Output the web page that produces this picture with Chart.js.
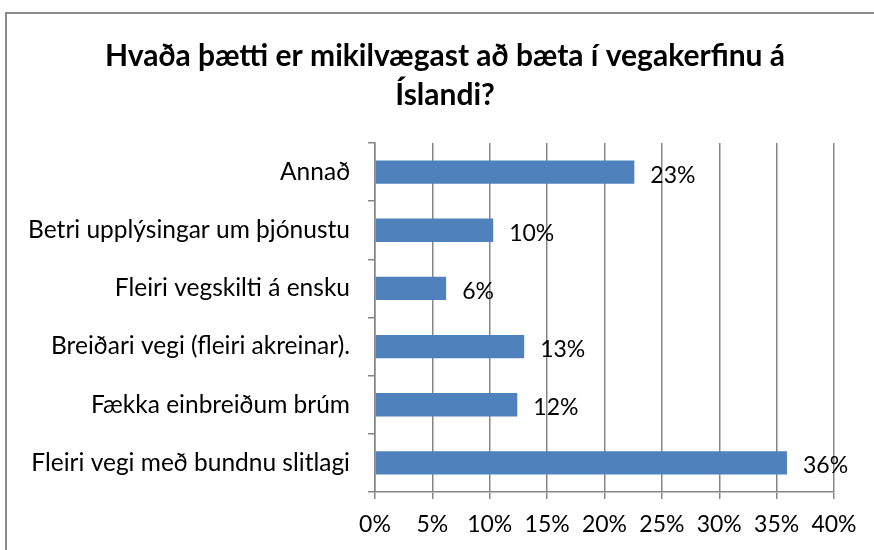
<!DOCTYPE html>
<html>
<head>
<meta charset="utf-8">
<script src="https://cdn.jsdelivr.net/npm/chart.js@4/dist/chart.umd.min.js"></script>
<style>
  html, body { margin: 0; padding: 0; background: #fff; overflow: hidden; }
  #wrap { position: relative; width: 874px; height: 550px; }
  #frame { position: absolute; left: 5px; top: 12px; width: 900px; height: 600px;
           border: 2px solid #8c8c8c; box-sizing: border-box; pointer-events: none; }
</style>
</head>
<body>
<div id="wrap">
  <canvas id="chart" width="874" height="550"></canvas>
  <div id="frame"></div>
</div>
<script>
// chart data
const categories = [
    'Annað',
    'Betri upplýsingar um þjónustu',
    'Fleiri vegskilti á ensku',
    'Breiðari vegi (fleiri akreinar).',
    'Fækka einbreiðum brúm',
    'Fleiri vegi með bundnu slitlagi'
];
const shares = [22.6, 10.3, 6.2, 13.0, 12.4, 35.9];
const shareLabels = ['23%', '10%', '6%', '13%', '12%', '36%'];
const tickValues = [0, 5, 10, 15, 20, 25, 30, 35, 40];

const titleLines = ['Hvaða þætti er mikilvægast að bæta í vegakerfinu á', 'Íslandi?'];

const FONT = 'Lato, Carlito, Calibri, sans-serif';
const axisGrey = '#868686';

// layout numbers (plot area runs from x 375 to 834, y 143 to 492)
const PAD_LEFT = 16;
const PAD_BOTTOM = 4;
const TITLE_SHIFT = 20;   // title sits a bit right of the canvas centre

// draws the percentage next to each bar
const barLabels = {
    id: 'barLabels',
    afterLayout: function(chart) {
        if (chart.titleBlock) {
            chart.titleBlock.left += TITLE_SHIFT;
            chart.titleBlock.right += TITLE_SHIFT;
        }
    },
    afterDatasetsDraw: function(chart) {
        const ctx = chart.ctx;
        const meta = chart.getDatasetMeta(0);
        ctx.save();
        ctx.font = '23px ' + FONT;
        ctx.fillStyle = '#000';
        ctx.textBaseline = 'middle';
        ctx.textAlign = 'left';
        meta.data.forEach(function(bar, i) {
            ctx.fillText(shareLabels[i], bar.x + 16, bar.y + 3);
        });
        ctx.restore();
    }
};

const ctx = document.getElementById('chart').getContext('2d');

new Chart(ctx, {
    type: 'bar',
    data: {
        labels: categories,
        datasets: [{
            data: shares,
            backgroundColor: '#4f81bd',
            borderColor: '#4f81bd',
            borderWidth: 0,
            barPercentage: 0.4,
            categoryPercentage: 1.0
        }]
    },
    options: {
        indexAxis: 'y',
        responsive: false,
        animation: false,
        layout: { padding: { top: 0, right: 40, bottom: PAD_BOTTOM, left: PAD_LEFT } },
        plugins: {
            legend: { display: false },
            tooltip: { enabled: false },
            title: {
                display: true,
                text: titleLines,
                color: '#000',
                font: { family: FONT, size: 30, weight: 'bold', lineHeight: 1.3 },
                padding: { top: 37, bottom: 28 }
            }
        },
        scales: {
            x: {
                min: 0,
                max: 40,
                afterBuildTicks: function(scale) {
                    scale.ticks = tickValues.map(function(v) { return { value: v }; });
                },
                afterFit: function(scale) {
                    scale.height = 550 - 492 - PAD_BOTTOM;
                },
                ticks: {
                    color: '#000',
                    font: { family: FONT, size: 23 },
                    padding: 12,
                    maxRotation: 0,
                    callback: function(v) { return v + '%'; }
                },
                grid: { color: axisGrey, lineWidth: 1.5, tickLength: 7 },
                border: { color: axisGrey, width: 1.5 }
            },
            y: {
                afterFit: function(scale) {
                    scale.width = 375 - PAD_LEFT;
                },
                ticks: {
                    color: '#000',
                    font: { family: FONT, size: 24.5 },
                    padding: 18
                },
                grid: { drawOnChartArea: false, color: axisGrey, lineWidth: 1.5, tickLength: 7 },
                border: { color: axisGrey, width: 1.5 }
            }
        }
    },
    plugins: [barLabels]
});
</script>
</body>
</html>
